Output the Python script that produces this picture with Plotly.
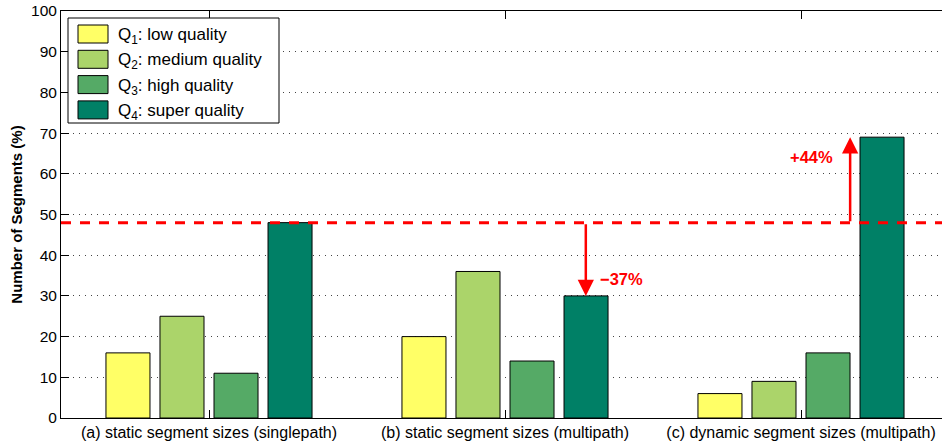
import plotly.graph_objects as go

categories = ["(a) static segment sizes (singlepath)",
              "(b) static segment sizes (multipath)",
              "(c) dynamic segment sizes (multipath)"]
series_names = ["Q<sub>1</sub>: low quality", "Q<sub>2</sub>: medium quality",
                "Q<sub>3</sub>: high quality", "Q<sub>4</sub>: super quality"]
q1 = [16, 20, 6]
q2 = [25, 36, 9]
q3 = [11, 14, 16]
q4 = [48, 30, 69]
baseline = 48
change_labels = ["\u221237%", "+44%"]
colors = ["#FFFF66", "#ABD46A", "#55AA66", "#008066"]
yticks = list(range(0, 101, 10))

W, H = 942, 444
L, R, T, B = 61, 0, 11, 26
pw, ph = W - L - R, H - T - B

def px2x(px):
    return (px - L) / pw

def px2y(py):
    return (H - B - py) / ph

xpos = [0, 1, 2]
fig = go.Figure()
for name, vals, c in zip(series_names, [q1, q2, q3, q4], colors):
    fig.add_trace(go.Bar(x=xpos, y=vals, name=name, marker_color=c,
                         marker_line_color="black", marker_line_width=1,
                         showlegend=False, hoverinfo="skip"))

font = "Liberation Sans, Arial, sans-serif"
fig.update_layout(
    width=W, height=H, margin=dict(l=L, r=R, t=T, b=B),
    paper_bgcolor="white", plot_bgcolor="white",
    barmode="group", bargap=0.27, bargroupgap=0.185,
    font=dict(family=font, size=14, color="black"),
    xaxis=dict(range=[-0.5, -0.5 + pw / 296], tickvals=xpos, ticktext=categories,
               ticks="inside", ticklen=8, tickcolor="black", tickwidth=1,
               showline=True, linecolor="black", linewidth=1, mirror="ticks",
               showgrid=False, zeroline=False, tickfont=dict(size=16),
               automargin=False),
    yaxis=dict(range=[0, 100], tickvals=yticks, ticks="inside", ticklen=8,
               tickcolor="black", showline=True, linecolor="black", linewidth=1,
               showgrid=True, gridcolor="#444444", griddash="1px,5px", gridwidth=1,
               zeroline=False, tickfont=dict(size=15.5), automargin=False,
               title=dict(text="<b>Number of Segments (%)</b>", standoff=4,
                          font=dict(size=15))),
)

# baseline dashed line
fig.add_shape(type="line", xref="paper", yref="y", x0=0, x1=1, y0=baseline, y1=baseline,
              line=dict(color="#FF0000", width=3, dash="10px,9px"), layer="above")

# arrows
offs = 0.273
arrow_b_x = xpos[1] + offs
arrow_c_x = xpos[2] + 0.166
for xa, ytarget in [(arrow_b_x, q4[1]), (arrow_c_x, q4[2])]:
    fig.add_annotation(x=xa, y=ytarget, ax=xa, ay=baseline, xref="x", yref="y",
                       axref="x", ayref="y", text="", showarrow=True,
                       arrowhead=2, arrowsize=1.3, arrowwidth=2.5,
                       arrowcolor="#FF0000", standoff=0)
fig.add_annotation(x=xpos[1] + 0.392, y=34.2, text="<b>%s</b>" % change_labels[0],
                   showarrow=False, font=dict(color="#FF0000", size=16.5))
fig.add_annotation(x=xpos[2] + 0.034, y=64.2, text="<b>%s</b>" % change_labels[1],
                   showarrow=False, font=dict(color="#FF0000", size=16.5))

# legend (manual, MATLAB-style large patches)
fig.add_shape(type="rect", xref="paper", yref="paper",
              x0=px2x(68), x1=px2x(279), y0=px2y(123), y1=px2y(18),
              line=dict(color="black", width=1), fillcolor="white", layer="above")
for i, (name, c) in enumerate(zip(series_names, colors)):
    yc = 34 + i * 25.3
    fig.add_shape(type="rect", xref="paper", yref="paper",
                  x0=px2x(78), x1=px2x(108), y0=px2y(yc + 9), y1=px2y(yc - 9),
                  line=dict(color="black", width=1), fillcolor=c, layer="above")
    fig.add_annotation(xref="paper", yref="paper", x=px2x(116), y=px2y(yc + 2),
                       text=name, showarrow=False, xanchor="left", yanchor="middle",
                       font=dict(size=17))

fig.write_html("out.html", config={"displayModeBar": False},
               post_script="document.body.style.margin='0';document.body.style.overflow='hidden';")
